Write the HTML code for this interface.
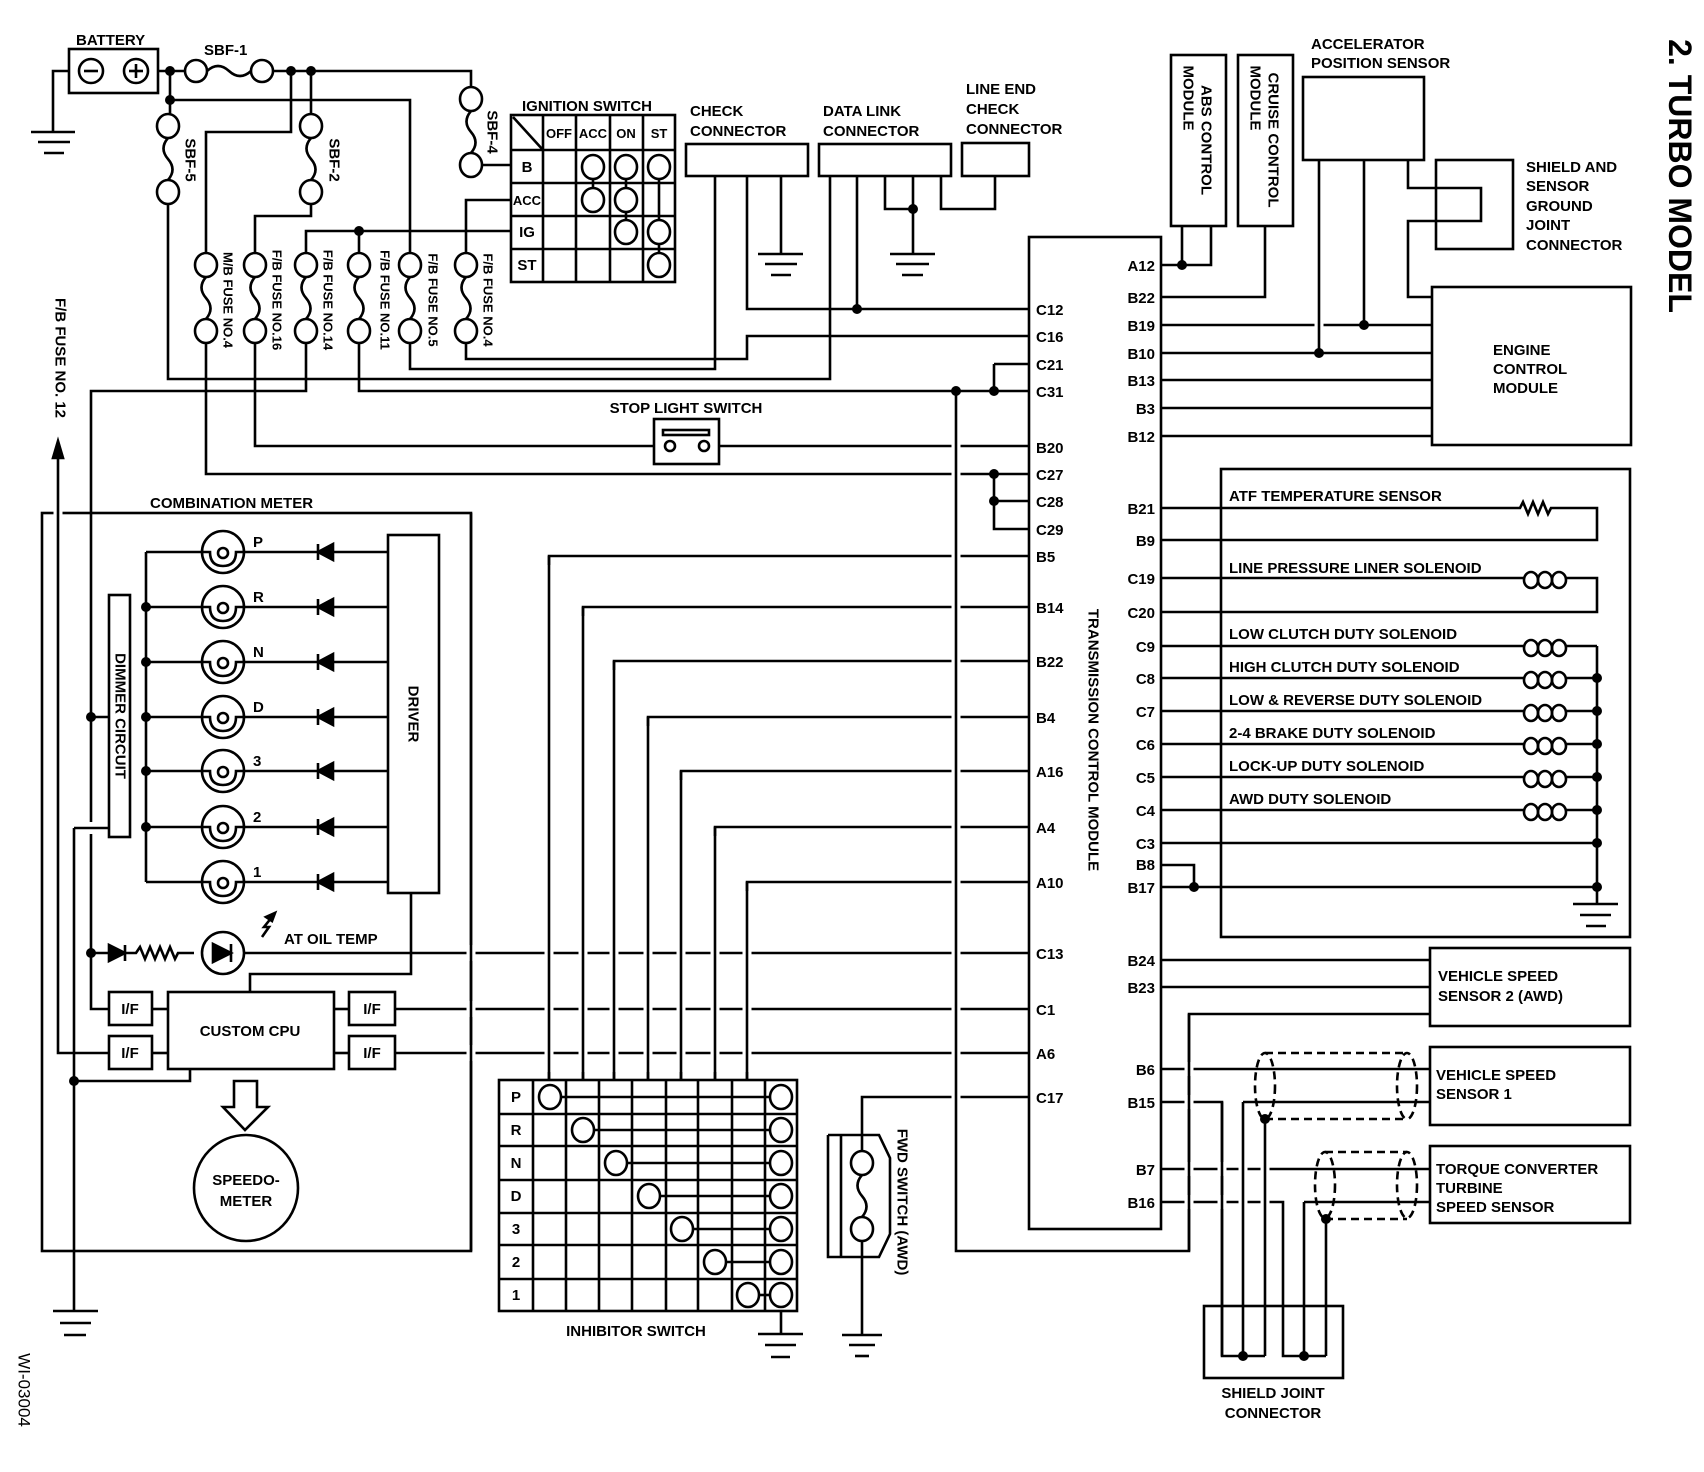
<!DOCTYPE html>
<html><head><meta charset="utf-8"><style>
html,body{margin:0;padding:0;background:#fff}
svg{display:block}
.w line,.w path,.w rect,.w circle,.w ellipse,.w polyline,.w polygon{stroke:#000;stroke-width:2.6;fill:none}
.h{stroke:#fff!important;stroke-width:9!important}
text{font-family:"Liberation Sans",sans-serif;font-weight:bold;font-size:15px;fill:#000}
.d{fill:#000!important;stroke:none!important}
.f{fill:#000!important}
.ds{stroke-dasharray:8 5}
</style></head><body>
<svg width="1704" height="1472" viewBox="0 0 1704 1472" xmlns="http://www.w3.org/2000/svg">
<g class="w">
<rect x="69" y="49" width="89" height="44"/>
<circle cx="91" cy="71" r="12"/><line x1="84" y1="71" x2="98" y2="71"/>
<circle cx="136" cy="71" r="12"/><line x1="129" y1="71" x2="143" y2="71"/><line x1="136" y1="64" x2="136" y2="78"/>
<polyline points="69,71 53,71 53,132"/>
<line x1="31" y1="132" x2="75" y2="132"/><line x1="38" y1="142" x2="70" y2="142"/><line x1="44" y1="153" x2="64" y2="153"/>
<line x1="158" y1="71" x2="185" y2="71"/>
<circle cx="196" cy="71" r="11"/><circle cx="262" cy="71" r="11"/>
<path d="M207,71 q11,-10 22,0 t22,0"/>
<polyline points="273,71 471,71 471,88"/>
<line x1="170" y1="71" x2="170" y2="114"/>
<polyline points="170,100 410,100 410,253"/>
<ellipse cx="168" cy="126" rx="11" ry="12"/><ellipse cx="168" cy="192" rx="11" ry="12"/>
<path d="M168,138 q-9,10.5 0,21 t0,21"/>
<polyline points="168,204 168,379 830,379 830,176"/>
<line x1="311" y1="71" x2="311" y2="114"/>
<ellipse cx="311" cy="126" rx="11" ry="12"/><ellipse cx="311" cy="192" rx="11" ry="12"/>
<path d="M311,138 q-9,10.5 0,21 t0,21"/>
<polyline points="311,204 311,216 255,216 255,253"/>
<ellipse cx="471" cy="99" rx="11" ry="12"/><ellipse cx="471" cy="165" rx="11" ry="12"/>
<path d="M471,111 q-9,10.5 0,21 t0,21"/>
<line x1="482" y1="165" x2="511" y2="165"/>
<polyline points="291,71 291,132 206,132 206,253"/>
<polyline points="306,253 306,231 511,231"/>
<polyline points="466,253 466,200 511,200"/>
<g>
<ellipse cx="206" cy="265" rx="11" ry="12"/><ellipse cx="206" cy="331" rx="11" ry="12"/><path d="M206,277 q-9,10.5 0,21 t0,21"/>
<ellipse cx="255" cy="265" rx="11" ry="12"/><ellipse cx="255" cy="331" rx="11" ry="12"/><path d="M255,277 q-9,10.5 0,21 t0,21"/>
<ellipse cx="306" cy="265" rx="11" ry="12"/><ellipse cx="306" cy="331" rx="11" ry="12"/><path d="M306,277 q-9,10.5 0,21 t0,21"/>
<ellipse cx="359" cy="265" rx="11" ry="12"/><ellipse cx="359" cy="331" rx="11" ry="12"/><path d="M359,277 q-9,10.5 0,21 t0,21"/>
<ellipse cx="410" cy="265" rx="11" ry="12"/><ellipse cx="410" cy="331" rx="11" ry="12"/><path d="M410,277 q-9,10.5 0,21 t0,21"/>
<ellipse cx="466" cy="265" rx="11" ry="12"/><ellipse cx="466" cy="331" rx="11" ry="12"/><path d="M466,277 q-9,10.5 0,21 t0,21"/>
</g>
<line x1="359" y1="231" x2="359" y2="253"/>
<polyline points="206,343 206,474 1029,474"/>
<polyline points="255,343 255,446 654,446"/><line x1="719" y1="446" x2="1029" y2="446"/>
<polyline points="306,343 306,391 91,391 91,1009 109,1009"/>
<polyline points="359,343 359,391 1029,391"/>
<polyline points="410,343 410,369 715,369 715,176"/>
<polyline points="466,343 466,359 747,359 747,336 1029,336"/>
<polyline points="747,176 747,309 1029,309"/>
<line x1="857" y1="176" x2="857" y2="309"/>
<rect x="686" y="144" width="122" height="32"/>
<line x1="781" y1="176" x2="781" y2="254"/>
<line x1="758" y1="254" x2="803" y2="254"/><line x1="765" y1="264" x2="797" y2="264"/><line x1="771" y1="275" x2="791" y2="275"/>
<rect x="819" y="144" width="132" height="32"/>
<polyline points="885,176 885,209 913,209"/>
<line x1="913" y1="176" x2="913" y2="254"/>
<polyline points="941,176 941,209 995,209 995,176"/>
<line x1="890" y1="254" x2="935" y2="254"/><line x1="896" y1="264" x2="929" y2="264"/><line x1="902" y1="275" x2="923" y2="275"/>
<rect x="962" y="143" width="67" height="33"/>
<rect x="511" y="115" width="164" height="167"/>
<line x1="543" y1="115" x2="543" y2="282"/><line x1="576" y1="115" x2="576" y2="282"/><line x1="610" y1="115" x2="610" y2="282"/><line x1="643" y1="115" x2="643" y2="282"/>
<line x1="511" y1="150" x2="675" y2="150"/><line x1="511" y1="183" x2="675" y2="183"/><line x1="511" y1="216" x2="675" y2="216"/><line x1="511" y1="249" x2="675" y2="249"/>
<line x1="513" y1="117" x2="543" y2="150"/>
<ellipse cx="593" cy="167" rx="11" ry="12"/><ellipse cx="593" cy="200" rx="11" ry="12"/>
<ellipse cx="626" cy="167" rx="11" ry="12"/><ellipse cx="626" cy="200" rx="11" ry="12"/><ellipse cx="626" cy="232" rx="11" ry="12"/>
<ellipse cx="659" cy="167" rx="11" ry="12"/><ellipse cx="659" cy="232" rx="11" ry="12"/><ellipse cx="659" cy="265" rx="11" ry="12"/>
<line x1="593" y1="179" x2="593" y2="188"/><line x1="626" y1="179" x2="626" y2="188"/><line x1="626" y1="212" x2="626" y2="220"/>
<line x1="659" y1="179" x2="659" y2="220"/><line x1="659" y1="244" x2="659" y2="253"/>
<rect x="654" y="419" width="65" height="45"/>
<rect x="663" y="430" width="46" height="5"/>
<circle cx="670" cy="446" r="5"/><circle cx="704" cy="446" r="5"/>
<rect x="1029" y="237" width="132" height="992"/>
<polyline points="994,364 1029,364"/><line x1="994" y1="364" x2="994" y2="391"/>
<polyline points="994,474 994,529 1029,529"/><line x1="994" y1="501" x2="1029" y2="501"/>
<polyline points="549,1080 549,556 1029,556"/>
<polyline points="583,1080 583,607 1029,607"/>
<polyline points="614,1080 614,661 1029,661"/>
<polyline points="648,1080 648,717 1029,717"/>
<polyline points="681,1080 681,771 1029,771"/>
<polyline points="715,1080 715,827 1029,827"/>
<polyline points="747,1080 747,882 1029,882"/>
<line x1="244" y1="953" x2="1029" y2="953"/>
<line x1="395" y1="1009" x2="1029" y2="1009"/>
<line x1="395" y1="1053" x2="1029" y2="1053"/>
<polyline points="862,1151 862,1097 1029,1097"/>
<rect x="42" y="513" width="429" height="738"/>
<line class="h" x1="58" y1="505" x2="58" y2="521"/>
<line class="h" x1="91" y1="822" x2="91" y2="834"/>
<line class="h" x1="74" y1="1046" x2="74" y2="1060"/>
<line class="h" x1="471" y1="945" x2="471" y2="961"/><line class="h" x1="471" y1="1001" x2="471" y2="1017"/><line class="h" x1="471" y1="1045" x2="471" y2="1061"/>
<line class="h" x1="549" y1="565" x2="549" y2="1072"/>
<line class="h" x1="583" y1="616" x2="583" y2="1072"/>
<line class="h" x1="614" y1="670" x2="614" y2="1072"/>
<line class="h" x1="648" y1="726" x2="648" y2="1072"/>
<line class="h" x1="681" y1="780" x2="681" y2="1072"/>
<line class="h" x1="715" y1="836" x2="715" y2="1072"/>
<line class="h" x1="747" y1="891" x2="747" y2="1072"/>
<line class="h" x1="956" y1="400" x2="956" y2="1243"/>
<line class="h" x1="1319" y1="317" x2="1319" y2="333"/>
<line class="h" x1="1189" y1="1022" x2="1189" y2="1243"/>
<line class="h" x1="1222" y1="1112" x2="1222" y2="1348"/>
<line class="h" x1="1243" y1="1112" x2="1243" y2="1348"/>
<line class="h" x1="1265" y1="1128" x2="1265" y2="1348"/>
<line x1="471" y1="513" x2="471" y2="1251"/>
<line x1="549" y1="556" x2="549" y2="1080"/><line x1="583" y1="607" x2="583" y2="1080"/><line x1="614" y1="661" x2="614" y2="1080"/><line x1="648" y1="717" x2="648" y2="1080"/><line x1="681" y1="771" x2="681" y2="1080"/><line x1="715" y1="827" x2="715" y2="1080"/><line x1="747" y1="882" x2="747" y2="1080"/>
<polyline points="956,391 956,1251 1189,1251 1189,1014 1430,1014"/>
<polyline points="58,452 58,1053 109,1053"/>
<polygon class="f" points="58,441 53,458 63,458"/>
<line x1="146" y1="552" x2="146" y2="882"/>
<rect x="109" y="595" width="21" height="242"/>
<line x1="91" y1="717" x2="109" y2="717"/>
<line x1="74" y1="828" x2="109" y2="828"/>
<polyline points="74,828 74,1311"/>
<polyline points="74,1081 190,1081 190,1069"/>
<line x1="53" y1="1311" x2="98" y2="1311"/><line x1="60" y1="1323" x2="91" y2="1323"/><line x1="64" y1="1335" x2="86" y2="1335"/>
<rect x="388" y="535" width="51" height="358"/>
<polyline points="411,893 411,974 250,974 250,992"/>
<rect x="168" y="992" width="166" height="77"/>
<rect x="109" y="992" width="43" height="33"/><rect x="109" y="1036" width="43" height="33"/>
<rect x="349" y="992" width="46" height="33"/><rect x="349" y="1036" width="46" height="33"/>
<line x1="152" y1="1009" x2="168" y2="1009"/><line x1="152" y1="1053" x2="168" y2="1053"/>
<line x1="334" y1="1009" x2="349" y2="1009"/><line x1="334" y1="1053" x2="349" y2="1053"/>
<g id="lamps">
<line x1="146" y1="552" x2="202" y2="552"/><circle cx="223" cy="552" r="21"/><path d="M202,552 h8 q0,14 13,14 q13,0 13,-14 h8"/><circle cx="223" cy="553" r="5"/><line x1="244" y1="552" x2="388" y2="552"/><polygon class="f" points="318,552 333,544 333,560"/><line x1="318" y1="544" x2="318" y2="560"/>
<line x1="146" y1="607" x2="202" y2="607"/><circle cx="223" cy="607" r="21"/><path d="M202,607 h8 q0,14 13,14 q13,0 13,-14 h8"/><circle cx="223" cy="608" r="5"/><line x1="244" y1="607" x2="388" y2="607"/><polygon class="f" points="318,607 333,599 333,615"/><line x1="318" y1="599" x2="318" y2="615"/>
<line x1="146" y1="662" x2="202" y2="662"/><circle cx="223" cy="662" r="21"/><path d="M202,662 h8 q0,14 13,14 q13,0 13,-14 h8"/><circle cx="223" cy="663" r="5"/><line x1="244" y1="662" x2="388" y2="662"/><polygon class="f" points="318,662 333,654 333,670"/><line x1="318" y1="654" x2="318" y2="670"/>
<line x1="146" y1="717" x2="202" y2="717"/><circle cx="223" cy="717" r="21"/><path d="M202,717 h8 q0,14 13,14 q13,0 13,-14 h8"/><circle cx="223" cy="718" r="5"/><line x1="244" y1="717" x2="388" y2="717"/><polygon class="f" points="318,717 333,709 333,725"/><line x1="318" y1="709" x2="318" y2="725"/>
<line x1="146" y1="771" x2="202" y2="771"/><circle cx="223" cy="771" r="21"/><path d="M202,771 h8 q0,14 13,14 q13,0 13,-14 h8"/><circle cx="223" cy="772" r="5"/><line x1="244" y1="771" x2="388" y2="771"/><polygon class="f" points="318,771 333,763 333,779"/><line x1="318" y1="763" x2="318" y2="779"/>
<line x1="146" y1="827" x2="202" y2="827"/><circle cx="223" cy="827" r="21"/><path d="M202,827 h8 q0,14 13,14 q13,0 13,-14 h8"/><circle cx="223" cy="828" r="5"/><line x1="244" y1="827" x2="388" y2="827"/><polygon class="f" points="318,827 333,819 333,835"/><line x1="318" y1="819" x2="318" y2="835"/>
<line x1="146" y1="882" x2="202" y2="882"/><circle cx="223" cy="882" r="21"/><path d="M202,882 h8 q0,14 13,14 q13,0 13,-14 h8"/><circle cx="223" cy="883" r="5"/><line x1="244" y1="882" x2="388" y2="882"/><polygon class="f" points="318,882 333,874 333,890"/><line x1="318" y1="874" x2="318" y2="890"/>
</g>
<line x1="91" y1="953" x2="109" y2="953"/>
<polygon class="f" points="109,945 109,961 125,953"/><line x1="125" y1="945" x2="125" y2="961"/>
<path d="M125,953 h11 l4,-6 l5,12 l5,-12 l5,12 l5,-12 l5,12 l5,-12 l5,12 l3,-6 h16"/>
<circle cx="223" cy="953" r="21"/>
<polygon class="f" points="213,944 213,962 231,953"/><line x1="231" y1="944" x2="231" y2="962"/>
<path d="M262,937 l7,-10 l-5,0 l8,-10" /><polygon class="f" points="275,913 266,917 272,921"/>
<polygon points="234,1081 257,1081 257,1107 268,1107 245,1130 223,1107 234,1107"/>
<ellipse cx="246" cy="1188" rx="52" ry="53"/>
<rect x="499" y="1080" width="298" height="231"/>
<line x1="533" y1="1080" x2="533" y2="1311"/><line x1="566" y1="1080" x2="566" y2="1311"/><line x1="599" y1="1080" x2="599" y2="1311"/><line x1="632" y1="1080" x2="632" y2="1311"/><line x1="666" y1="1080" x2="666" y2="1311"/><line x1="698" y1="1080" x2="698" y2="1311"/><line x1="732" y1="1080" x2="732" y2="1311"/><line x1="765" y1="1080" x2="765" y2="1311"/>
<line x1="499" y1="1114" x2="797" y2="1114"/><line x1="499" y1="1146" x2="797" y2="1146"/><line x1="499" y1="1180" x2="797" y2="1180"/><line x1="499" y1="1213" x2="797" y2="1213"/><line x1="499" y1="1245" x2="797" y2="1245"/><line x1="499" y1="1279" x2="797" y2="1279"/>
<g>
<ellipse cx="550" cy="1097" rx="11" ry="12" style="fill:#fff"/><ellipse cx="781" cy="1097" rx="11" ry="12" style="fill:#fff"/><line x1="561" y1="1097" x2="770" y2="1097"/>
<ellipse cx="583" cy="1130" rx="11" ry="12" style="fill:#fff"/><ellipse cx="781" cy="1130" rx="11" ry="12" style="fill:#fff"/><line x1="594" y1="1130" x2="770" y2="1130"/>
<ellipse cx="616" cy="1163" rx="11" ry="12" style="fill:#fff"/><ellipse cx="781" cy="1163" rx="11" ry="12" style="fill:#fff"/><line x1="627" y1="1163" x2="770" y2="1163"/>
<ellipse cx="649" cy="1196" rx="11" ry="12" style="fill:#fff"/><ellipse cx="781" cy="1196" rx="11" ry="12" style="fill:#fff"/><line x1="660" y1="1196" x2="770" y2="1196"/>
<ellipse cx="682" cy="1229" rx="11" ry="12" style="fill:#fff"/><ellipse cx="781" cy="1229" rx="11" ry="12" style="fill:#fff"/><line x1="693" y1="1229" x2="770" y2="1229"/>
<ellipse cx="715" cy="1262" rx="11" ry="12" style="fill:#fff"/><ellipse cx="781" cy="1262" rx="11" ry="12" style="fill:#fff"/><line x1="726" y1="1262" x2="770" y2="1262"/>
<ellipse cx="748" cy="1295" rx="11" ry="12" style="fill:#fff"/><ellipse cx="781" cy="1295" rx="11" ry="12" style="fill:#fff"/><line x1="759" y1="1295" x2="770" y2="1295"/>
</g>
<line x1="781" y1="1311" x2="781" y2="1334"/>
<line x1="758" y1="1334" x2="803" y2="1334"/><line x1="765" y1="1345" x2="796" y2="1345"/><line x1="771" y1="1357" x2="790" y2="1357"/>
<polyline points="828,1135 879,1135 890,1158 890,1234 879,1257 828,1257 828,1135"/>
<line x1="841" y1="1135" x2="841" y2="1257"/>
<ellipse cx="862" cy="1163" rx="11" ry="12"/><ellipse cx="862" cy="1229" rx="11" ry="12"/>
<path d="M862,1175 q-9,10.5 0,21 t0,21"/>
<line x1="862" y1="1241" x2="862" y2="1335"/>
<line x1="842" y1="1335" x2="882" y2="1335"/><line x1="849" y1="1345" x2="875" y2="1345"/><line x1="855" y1="1356" x2="869" y2="1356"/>
<rect x="1171" y="55" width="55" height="171"/>
<rect x="1238" y="55" width="55" height="171"/>
<polyline points="1161,265 1211,265 1211,226"/><line x1="1182" y1="226" x2="1182" y2="265"/>
<polyline points="1161,297 1265,297 1265,226"/>
<rect x="1303" y="77" width="121" height="83"/>
<rect x="1436" y="160" width="77" height="89"/>
<polyline points="1408,160 1408,188 1481,188 1481,221 1408,221 1408,297 1432,297"/>
<rect x="1432" y="287" width="199" height="158"/>
<line x1="1161" y1="325" x2="1432" y2="325"/><line x1="1161" y1="353" x2="1432" y2="353"/><line x1="1161" y1="380" x2="1432" y2="380"/><line x1="1161" y1="408" x2="1432" y2="408"/><line x1="1161" y1="436" x2="1432" y2="436"/>
<line class="h" x1="1319" y1="317" x2="1319" y2="333"/>
<line x1="1319" y1="160" x2="1319" y2="353"/><line x1="1364" y1="160" x2="1364" y2="325"/>
<rect x="1221" y="469" width="409" height="468"/>
<path d="M1161,508 H1520 l3,-6 l5,12 l5,-12 l5,12 l5,-12 l5,12 l3,-6 H1597 V540 H1161"/>
<path d="M1161,578 H1524 M1566,578 H1597 V612 H1161"/>
<g id="coils">
<ellipse cx="1531" cy="580" rx="7" ry="8"/><ellipse cx="1545" cy="580" rx="7" ry="8"/><ellipse cx="1559" cy="580" rx="7" ry="8"/>
<ellipse cx="1531" cy="648" rx="7" ry="8"/><ellipse cx="1545" cy="648" rx="7" ry="8"/><ellipse cx="1559" cy="648" rx="7" ry="8"/>
<ellipse cx="1531" cy="680" rx="7" ry="8"/><ellipse cx="1545" cy="680" rx="7" ry="8"/><ellipse cx="1559" cy="680" rx="7" ry="8"/>
<ellipse cx="1531" cy="713" rx="7" ry="8"/><ellipse cx="1545" cy="713" rx="7" ry="8"/><ellipse cx="1559" cy="713" rx="7" ry="8"/>
<ellipse cx="1531" cy="746" rx="7" ry="8"/><ellipse cx="1545" cy="746" rx="7" ry="8"/><ellipse cx="1559" cy="746" rx="7" ry="8"/>
<ellipse cx="1531" cy="779" rx="7" ry="8"/><ellipse cx="1545" cy="779" rx="7" ry="8"/><ellipse cx="1559" cy="779" rx="7" ry="8"/>
<ellipse cx="1531" cy="812" rx="7" ry="8"/><ellipse cx="1545" cy="812" rx="7" ry="8"/><ellipse cx="1559" cy="812" rx="7" ry="8"/>
</g>
<path d="M1161,646 H1524 M1566,646 H1597 M1161,678 H1524 M1566,678 H1597 M1161,711 H1524 M1566,711 H1597 M1161,744 H1524 M1566,744 H1597 M1161,777 H1524 M1566,777 H1597 M1161,810 H1524 M1566,810 H1597"/>
<line x1="1161" y1="843" x2="1597" y2="843"/>
<polyline points="1161,865 1194,865 1194,887"/>
<line x1="1161" y1="887" x2="1597" y2="887"/>
<line x1="1597" y1="646" x2="1597" y2="904"/>
<line x1="1573" y1="904" x2="1618" y2="904"/><line x1="1580" y1="915" x2="1611" y2="915"/><line x1="1586" y1="926" x2="1606" y2="926"/>
<rect x="1430" y="948" width="200" height="78"/>
<line x1="1161" y1="960" x2="1430" y2="960"/><line x1="1161" y1="987" x2="1430" y2="987"/>
<rect x="1430" y="1047" width="200" height="78"/>
<rect x="1430" y="1146" width="200" height="77"/>
<rect x="1204" y="1306" width="139" height="72"/>
<line x1="1161" y1="1069" x2="1430" y2="1069"/>
<line x1="1161" y1="1169" x2="1430" y2="1169"/>
<polyline points="1161,1102 1222,1102 1222,1356 1265,1356"/>
<line x1="1243" y1="1102" x2="1430" y2="1102"/>
<polyline points="1161,1202 1283,1202 1283,1356 1326,1356"/>
<line x1="1304" y1="1202" x2="1430" y2="1202"/>
<line class="h" x1="1189" y1="1062" x2="1189" y2="1076"/><line class="h" x1="1189" y1="1095" x2="1189" y2="1109"/><line class="h" x1="1189" y1="1162" x2="1189" y2="1176"/><line class="h" x1="1189" y1="1195" x2="1189" y2="1209"/>
<line class="h" x1="1222" y1="1162" x2="1222" y2="1176"/><line class="h" x1="1222" y1="1195" x2="1222" y2="1209"/>
<line class="h" x1="1243" y1="1162" x2="1243" y2="1176"/><line class="h" x1="1243" y1="1195" x2="1243" y2="1209"/>
<line class="h" x1="1265" y1="1162" x2="1265" y2="1176"/><line class="h" x1="1265" y1="1195" x2="1265" y2="1209"/>
<line x1="1189" y1="1014" x2="1189" y2="1251"/>
<line x1="1222" y1="1102" x2="1222" y2="1356"/>
<line x1="1243" y1="1102" x2="1243" y2="1356"/>
<line x1="1265" y1="1119" x2="1265" y2="1356"/>
<line x1="1304" y1="1202" x2="1304" y2="1356"/>
<line x1="1326" y1="1219" x2="1326" y2="1356"/>
<g>
<path class="ds" d="M1265,1053 H1407 M1265,1119 H1407"/>
<ellipse class="ds" cx="1265" cy="1086" rx="10" ry="33"/><ellipse class="ds" cx="1407" cy="1086" rx="10" ry="33"/>
<path class="ds" d="M1325,1152 H1407 M1325,1219 H1407"/>
<ellipse class="ds" cx="1325" cy="1185" rx="10" ry="33"/><ellipse class="ds" cx="1407" cy="1185" rx="10" ry="33"/>
</g>
</g>
<g class="w">
<circle class="d" cx="170" cy="71" r="5"/><circle class="d" cx="291" cy="71" r="5"/><circle class="d" cx="311" cy="71" r="5"/><circle class="d" cx="170" cy="100" r="5"/>
<circle class="d" cx="359" cy="231" r="5"/><circle class="d" cx="857" cy="309" r="5"/><circle class="d" cx="913" cy="209" r="5"/>
<circle class="d" cx="956" cy="391" r="5"/><circle class="d" cx="994" cy="391" r="5"/><circle class="d" cx="994" cy="474" r="5"/><circle class="d" cx="994" cy="501" r="5"/>
<circle class="d" cx="1182" cy="265" r="5"/><circle class="d" cx="1319" cy="353" r="5"/><circle class="d" cx="1364" cy="325" r="5"/>
<circle class="d" cx="1597" cy="678" r="5"/><circle class="d" cx="1597" cy="711" r="5"/><circle class="d" cx="1597" cy="744" r="5"/><circle class="d" cx="1597" cy="777" r="5"/><circle class="d" cx="1597" cy="810" r="5"/><circle class="d" cx="1597" cy="843" r="5"/><circle class="d" cx="1597" cy="887" r="5"/><circle class="d" cx="1194" cy="887" r="5"/>
<circle class="d" cx="1265" cy="1119" r="5"/><circle class="d" cx="1326" cy="1219" r="5"/><circle class="d" cx="1243" cy="1356" r="5"/><circle class="d" cx="1304" cy="1356" r="5"/>
<circle class="d" cx="91" cy="717" r="5"/><circle class="d" cx="91" cy="953" r="5"/><circle class="d" cx="74" cy="1081" r="5"/>
<circle class="d" cx="146" cy="607" r="5"/><circle class="d" cx="146" cy="662" r="5"/><circle class="d" cx="146" cy="717" r="5"/><circle class="d" cx="146" cy="771" r="5"/><circle class="d" cx="146" cy="827" r="5"/>
</g>
<text x="76" y="45">BATTERY</text>
<text x="204" y="55">SBF-1</text>
<text x="522" y="111">IGNITION SWITCH</text>
<text x="559" y="138" text-anchor="middle" style="font-size:13px">OFF</text><text x="593" y="138" text-anchor="middle" style="font-size:13px">ACC</text><text x="626" y="138" text-anchor="middle" style="font-size:13px">ON</text><text x="659" y="138" text-anchor="middle" style="font-size:13px">ST</text>
<text x="527" y="172" text-anchor="middle">B</text><text x="527" y="205" text-anchor="middle" style="font-size:13px">ACC</text><text x="527" y="237" text-anchor="middle">IG</text><text x="527" y="270" text-anchor="middle">ST</text>
<text x="690" y="116">CHECK</text><text x="690" y="136">CONNECTOR</text>
<text x="823" y="116">DATA LINK</text><text x="823" y="136">CONNECTOR</text>
<text x="966" y="94">LINE END</text><text x="966" y="114">CHECK</text><text x="966" y="134">CONNECTOR</text>
<text x="1311" y="49">ACCELERATOR</text><text x="1311" y="68">POSITION SENSOR</text>
<text x="1526" y="172">SHIELD AND</text><text x="1526" y="191">SENSOR</text><text x="1526" y="211">GROUND</text><text x="1526" y="230">JOINT</text><text x="1526" y="250">CONNECTOR</text>
<text x="1493" y="355">ENGINE</text><text x="1493" y="374">CONTROL</text><text x="1493" y="393">MODULE</text>
<text x="686" y="413" text-anchor="middle">STOP LIGHT SWITCH</text>
<text x="150" y="508">COMBINATION METER</text>
<text x="250" y="1036" text-anchor="middle">CUSTOM CPU</text>
<text x="130" y="1014" text-anchor="middle">I/F</text><text x="130" y="1058" text-anchor="middle">I/F</text><text x="372" y="1014" text-anchor="middle">I/F</text><text x="372" y="1058" text-anchor="middle">I/F</text>
<text x="246" y="1185" text-anchor="middle">SPEEDO-</text><text x="246" y="1206" text-anchor="middle">METER</text>
<text x="284" y="944">AT OIL TEMP</text>
<text x="253" y="547">P</text><text x="253" y="602">R</text><text x="253" y="657">N</text><text x="253" y="712">D</text><text x="253" y="766">3</text><text x="253" y="822">2</text><text x="253" y="877">1</text>
<text x="516" y="1102" text-anchor="middle">P</text><text x="516" y="1135" text-anchor="middle">R</text><text x="516" y="1168" text-anchor="middle">N</text><text x="516" y="1201" text-anchor="middle">D</text><text x="516" y="1234" text-anchor="middle">3</text><text x="516" y="1267" text-anchor="middle">2</text><text x="516" y="1300" text-anchor="middle">1</text>
<text x="636" y="1336" text-anchor="middle">INHIBITOR SWITCH</text>
<text x="1229" y="501">ATF TEMPERATURE SENSOR</text>
<text x="1229" y="573">LINE PRESSURE LINER SOLENOID</text>
<text x="1229" y="639">LOW CLUTCH DUTY SOLENOID</text>
<text x="1229" y="672">HIGH CLUTCH DUTY SOLENOID</text>
<text x="1229" y="705">LOW &amp; REVERSE DUTY SOLENOID</text>
<text x="1229" y="738">2-4 BRAKE DUTY SOLENOID</text>
<text x="1229" y="771">LOCK-UP DUTY SOLENOID</text>
<text x="1229" y="804">AWD DUTY SOLENOID</text>
<text x="1438" y="981">VEHICLE SPEED</text><text x="1438" y="1001">SENSOR 2 (AWD)</text>
<text x="1436" y="1080">VEHICLE SPEED</text><text x="1436" y="1099">SENSOR 1</text>
<text x="1436" y="1174">TORQUE CONVERTER</text><text x="1436" y="1193">TURBINE</text><text x="1436" y="1212">SPEED SENSOR</text>
<text x="1273" y="1398" text-anchor="middle">SHIELD JOINT</text><text x="1273" y="1418" text-anchor="middle">CONNECTOR</text>
<g>
<text x="1036" y="315">C12</text><text x="1036" y="342">C16</text><text x="1036" y="370">C21</text><text x="1036" y="397">C31</text><text x="1036" y="453">B20</text><text x="1036" y="480">C27</text><text x="1036" y="507">C28</text><text x="1036" y="535">C29</text><text x="1036" y="562">B5</text><text x="1036" y="613">B14</text><text x="1036" y="667">B22</text><text x="1036" y="723">B4</text><text x="1036" y="777">A16</text><text x="1036" y="833">A4</text><text x="1036" y="888">A10</text><text x="1036" y="959">C13</text><text x="1036" y="1015">C1</text><text x="1036" y="1059">A6</text><text x="1036" y="1103">C17</text>
</g>
<g>
<text x="1155" y="271" text-anchor="end">A12</text><text x="1155" y="303" text-anchor="end">B22</text><text x="1155" y="331" text-anchor="end">B19</text><text x="1155" y="359" text-anchor="end">B10</text><text x="1155" y="386" text-anchor="end">B13</text><text x="1155" y="414" text-anchor="end">B3</text><text x="1155" y="442" text-anchor="end">B12</text><text x="1155" y="514" text-anchor="end">B21</text><text x="1155" y="546" text-anchor="end">B9</text><text x="1155" y="584" text-anchor="end">C19</text><text x="1155" y="618" text-anchor="end">C20</text><text x="1155" y="652" text-anchor="end">C9</text><text x="1155" y="684" text-anchor="end">C8</text><text x="1155" y="717" text-anchor="end">C7</text><text x="1155" y="750" text-anchor="end">C6</text><text x="1155" y="783" text-anchor="end">C5</text><text x="1155" y="816" text-anchor="end">C4</text><text x="1155" y="849" text-anchor="end">C3</text><text x="1155" y="870" text-anchor="end">B8</text><text x="1155" y="893" text-anchor="end">B17</text><text x="1155" y="966" text-anchor="end">B24</text><text x="1155" y="993" text-anchor="end">B23</text><text x="1155" y="1075" text-anchor="end">B6</text><text x="1155" y="1108" text-anchor="end">B15</text><text x="1155" y="1175" text-anchor="end">B7</text><text x="1155" y="1208" text-anchor="end">B16</text>
</g>
<g>
<text transform="translate(190,160) rotate(90)" text-anchor="middle" dominant-baseline="central">SBF-5</text>
<text transform="translate(334,160) rotate(90)" text-anchor="middle" dominant-baseline="central">SBF-2</text>
<text transform="translate(492,132) rotate(90)" text-anchor="middle" dominant-baseline="central">SBF-4</text>
<text transform="translate(228,300) rotate(90)" text-anchor="middle" dominant-baseline="central" style="font-size:13px">M/B FUSE NO.4</text>
<text transform="translate(277,300) rotate(90)" text-anchor="middle" dominant-baseline="central" style="font-size:13px">F/B FUSE NO.16</text>
<text transform="translate(328,300) rotate(90)" text-anchor="middle" dominant-baseline="central" style="font-size:13px">F/B FUSE NO.14</text>
<text transform="translate(385,300) rotate(90)" text-anchor="middle" dominant-baseline="central" style="font-size:13px">F/B FUSE NO.11</text>
<text transform="translate(433,300) rotate(90)" text-anchor="middle" dominant-baseline="central" style="font-size:13px">F/B FUSE NO.5</text>
<text transform="translate(488,300) rotate(90)" text-anchor="middle" dominant-baseline="central" style="font-size:13px">F/B FUSE NO.4</text>
<text transform="translate(60,358) rotate(90)" text-anchor="middle" dominant-baseline="central">F/B FUSE NO. 12</text>
<text transform="translate(120,716) rotate(90)" text-anchor="middle" dominant-baseline="central">DIMMER CIRCUIT</text>
<text transform="translate(413,714) rotate(90)" text-anchor="middle" dominant-baseline="central">DRIVER</text>
<text transform="translate(1093,740) rotate(90)" text-anchor="middle" dominant-baseline="central">TRANSMISSION CONTROL MODULE</text>
<text transform="translate(902,1202) rotate(90)" text-anchor="middle" dominant-baseline="central">FWD SWITCH (AWD)</text>
<text transform="translate(1206,140) rotate(90)" text-anchor="middle" dominant-baseline="central">ABS CONTROL</text>
<text transform="translate(1188,98) rotate(90)" text-anchor="middle" dominant-baseline="central">MODULE</text>
<text transform="translate(1273,140) rotate(90)" text-anchor="middle" dominant-baseline="central">CRUISE CONTROL</text>
<text transform="translate(1255,98) rotate(90)" text-anchor="middle" dominant-baseline="central">MODULE</text>
<text transform="translate(1680,176) rotate(90)" text-anchor="middle" dominant-baseline="central" style="font-size:32px">2. TURBO MODEL</text>
<text transform="translate(24,1390) rotate(90)" text-anchor="middle" dominant-baseline="central" style="font-weight:normal;font-size:17px">WI-03004</text>
</g>
</svg>
</body></html>
